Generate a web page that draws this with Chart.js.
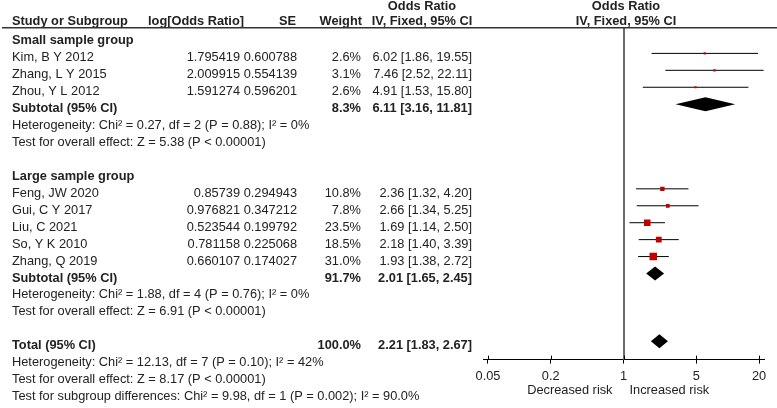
<!DOCTYPE html>
<html>
<head>
<meta charset="utf-8">
<script src="https://cdn.jsdelivr.net/npm/chart.js@4.4.1/dist/chart.umd.min.js"></script>
<style>
  html, body { margin: 0; padding: 0; background: #fff; }
  #wrap { position: relative; width: 777px; height: 408px; }
</style>
</head>
<body>
<div id="wrap"><canvas id="forest"></canvas></div>
<script>
  "use strict";

  // studies (row = line number in the table, group header of small = 0)
  const studyNames = ["Kim, B Y 2012", "Zhang, L Y 2015", "Zhou, Y L 2012", "Feng, JW 2020", "Gui, C Y 2017", "Liu, C 2021", "So, Y K 2010", "Zhang, Q 2019"];
  const studyRows = [1, 2, 3, 9, 10, 11, 12, 13];
  const logOR = ["1.795419", "2.009915", "1.591274", "0.85739", "0.976821", "0.523544", "0.781158", "0.660107"];
  const stdErr = ["0.600788", "0.554139", "0.596201", "0.294943", "0.347212", "0.199792", "0.225068", "0.174027"];
  const weights = [2.6, 3.1, 2.6, 10.8, 7.8, 23.5, 18.5, 31.0];
  const oddsRatio = [6.02, 7.46, 4.91, 2.36, 2.66, 1.69, 2.18, 1.93];
  const ciLower = [1.86, 2.52, 1.53, 1.32, 1.34, 1.14, 1.40, 1.38];
  const ciUpper = [19.55, 22.11, 15.80, 4.20, 5.25, 2.50, 3.39, 2.72];

  // pooled estimates
  const pooledLabels = ["Subtotal (95% CI)", "Subtotal (95% CI)", "Total (95% CI)"];
  const pooledRows = [4, 14, 18];
  const pooledWeight = [8.3, 91.7, 100.0];
  const pooledOR = [6.11, 2.01, 2.21];
  const pooledLower = [3.16, 1.65, 1.83];
  const pooledUpper = [11.81, 2.45, 2.67];

  // group headings and notes
  const groupLabels = ["Small sample group", "Large sample group"];
  const groupRows = [0, 8];
  const noteLabels = [
    "Heterogeneity: Chi\u00b2 = 0.27, df = 2 (P = 0.88); I\u00b2 = 0%",
    "Test for overall effect: Z = 5.38 (P < 0.00001)",
    "Heterogeneity: Chi\u00b2 = 1.88, df = 4 (P = 0.76); I\u00b2 = 0%",
    "Test for overall effect: Z = 6.91 (P < 0.00001)",
    "Heterogeneity: Chi\u00b2 = 12.13, df = 7 (P = 0.10); I\u00b2 = 42%",
    "Test for overall effect: Z = 8.17 (P < 0.00001)",
    "Test for subgroup differences: Chi\u00b2 = 9.98, df = 1 (P = 0.002); I\u00b2 = 90.0%"
  ];
  const noteRows = [5, 6, 15, 16, 19, 20, 21];

  const xTicks = [0.05, 0.2, 1, 5, 20];
  const favourLabels = ["Decreased risk", "Increased risk"];

  const FONT = '"Liberation Sans", Arial, sans-serif';
  const FSIZE = 12.8;
  const TXT = "#222";

  function fmtCI(or, lo, hi) {
    return or.toFixed(2) + " [" + lo.toFixed(2) + ", " + hi.toFixed(2) + "]";
  }

  const ciDatasets = studyNames.map(function (name, i) {
    return {
      type: "line",
      label: name,
      data: [{ x: ciLower[i], y: studyRows[i] }, { x: ciUpper[i], y: studyRows[i] }],
      borderColor: "#000",
      borderWidth: 1,
      pointRadius: 0,
      order: 2
    };
  });

  const squareDataset = {
    type: "scatter",
    label: "OR",
    data: oddsRatio.map((v, i) => ({ x: v, y: studyRows[i] })),
    pointStyle: "rect",
    pointRadius: (ctx) => 0.95 * Math.sqrt(weights[ctx.dataIndex]),
    backgroundColor: "#c00000",
    borderWidth: 0,
    order: 1
  };

  const forestPlugin = {
    id: "forest",
    beforeDatasetsDraw(chart) {
      const { ctx, chartArea, scales } = chart;
      const x1 = Math.round(scales.x.getPixelForValue(1));
      ctx.save();
      ctx.strokeStyle = "#6a6a6a";
      ctx.lineWidth = 2;
      ctx.beginPath();
      ctx.moveTo(x1, chartArea.top);
      ctx.lineTo(x1, chartArea.bottom);
      ctx.stroke();
      ctx.restore();
    },
    afterDatasetsDraw(chart) {
      const { ctx, scales } = chart;
      ctx.save();
      ctx.fillStyle = "#000";
      pooledRows.forEach(function (row, i) {
        const y = scales.y.getPixelForValue(row);
        const xl = scales.x.getPixelForValue(pooledLower[i]);
        const xm = scales.x.getPixelForValue(pooledOR[i]);
        const xr = scales.x.getPixelForValue(pooledUpper[i]);
        ctx.beginPath();
        ctx.moveTo(xl, y);
        ctx.lineTo(xm, y - 7);
        ctx.lineTo(xr, y);
        ctx.lineTo(xm, y + 7);
        ctx.closePath();
        ctx.fill();
      });
      // upward half of the tick marks
      const axisY = chart.chartArea.bottom;
      ctx.strokeStyle = "#000";
      ctx.lineWidth = 1;
      xTicks.forEach(function (t) {
        const x = Math.round(scales.x.getPixelForValue(t)) + 0.5;
        ctx.beginPath();
        ctx.moveTo(x, axisY - 4);
        ctx.lineTo(x, axisY);
        ctx.stroke();
      });
      ctx.restore();
    },
    afterDraw(chart) {
      const { ctx, scales } = chart;
      const rowY = (r) => scales.y.getPixelForValue(r) + 4.5;
      function txt(s, x, y, align, bold) {
        ctx.font = (bold ? "bold " : "") + FSIZE + "px " + FONT;
        ctx.textAlign = align;
        ctx.fillText(s, x, y);
      }
      ctx.save();
      ctx.fillStyle = TXT;
      ctx.textBaseline = "middle";

      // header
      txt("Odds Ratio", 422, 6, "center", true);
      txt("Odds Ratio", 626, 6, "center", true);
      txt("Study or Subgroup", 12, 21, "left", true);
      txt("log[Odds Ratio]", 244, 21, "right", true);
      txt("SE", 296, 21, "right", true);
      txt("Weight", 362, 21, "right", true);
      txt("IV, Fixed, 95% CI", 422, 21, "center", true);
      txt("IV, Fixed, 95% CI", 626, 21, "center", true);
      ctx.strokeStyle = "#333";
      ctx.lineWidth = 1.5;
      ctx.beginPath();
      ctx.moveTo(2, 27.75);
      ctx.lineTo(777, 27.75);
      ctx.stroke();

      groupLabels.forEach((s, i) => txt(s, 12, rowY(groupRows[i]), "left", true));
      studyNames.forEach(function (s, i) {
        const y = rowY(studyRows[i]);
        txt(s, 12, y, "left", false);
        txt(logOR[i], 240, y, "right", false);
        txt(stdErr[i], 297, y, "right", false);
        txt(weights[i].toFixed(1) + "%", 361, y, "right", false);
        txt(fmtCI(oddsRatio[i], ciLower[i], ciUpper[i]), 472, y, "right", false);
      });
      pooledLabels.forEach(function (s, i) {
        const y = rowY(pooledRows[i]);
        txt(s, 12, y, "left", true);
        txt(pooledWeight[i].toFixed(1) + "%", 361, y, "right", true);
        txt(fmtCI(pooledOR[i], pooledLower[i], pooledUpper[i]), 472, y, "right", true);
      });
      noteLabels.forEach((s, i) => txt(s, 12, rowY(noteRows[i]), "left", false));

      const x1 = scales.x.getPixelForValue(1);
      txt(favourLabels[0], x1 - 11, 390, "right", false);
      txt(favourLabels[1], x1 + 6, 390, "left", false);
      ctx.restore();
    }
  };

  new Chart(document.getElementById("forest"), {
    type: "scatter",
    data: { datasets: [squareDataset].concat(ciDatasets) },
    options: {
      responsive: true,
      maintainAspectRatio: false,
      animation: false,
      layout: { padding: { left: 483, right: 13, top: 28, bottom: 19 } },
      plugins: { legend: { display: false }, tooltip: { enabled: false } },
      scales: {
        x: {
          type: "logarithmic",
          min: 0.0448,
          max: 22.3,
          afterBuildTicks: (scale) => { scale.ticks = xTicks.map((v) => ({ value: v })); },
          ticks: { autoSkip: false, maxRotation: 0, color: TXT, padding: 5, font: { size: FSIZE, family: FONT }, callback: (v) => String(v) },
          grid: { drawOnChartArea: false, drawTicks: true, tickLength: 4, color: "#000", lineWidth: 1 },
          border: { display: true, color: "#000", width: 1 }
        },
        y: { type: "linear", display: false, reverse: true, min: -0.5, max: 19.088 }
      }
    },
    plugins: [forestPlugin]
  });
</script>
</body>
</html>
